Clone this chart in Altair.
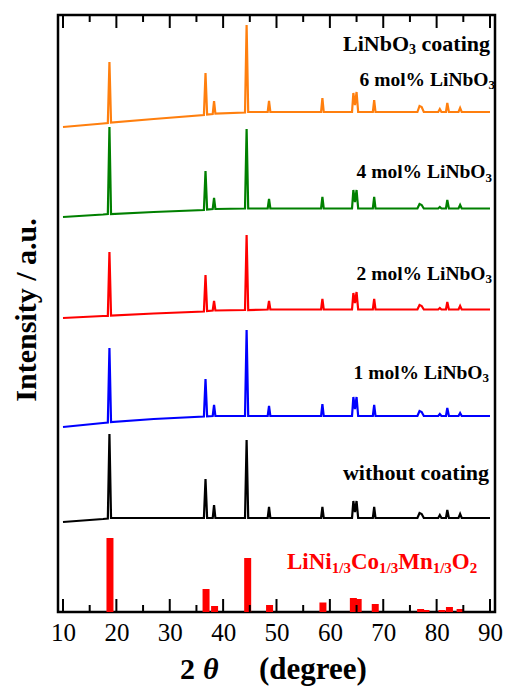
import altair as alt
import pandas as pd

# ---------------- data ----------------
two_theta = [10, 17.5, 18.4, 18.7, 19.0, 27, 36.4, 36.7, 37.0, 38.05, 38.3, 38.55,
             44.1, 44.4, 44.7, 48.35, 48.6, 48.85, 58.35, 58.6, 58.85,
             64.15, 64.4, 64.7, 65.0, 65.3, 68.05, 68.3, 68.55,
             76.4, 76.8, 77.2, 77.6, 80.3, 80.6, 80.9, 81.75, 82.0, 82.3,
             84.1, 84.4, 84.7, 90]

without_coating = [90, 93, 93.5, 178, 94, 94, 94, 133, 94, 94, 107, 94,
                   94, 172, 94, 94, 105, 94, 94, 105, 94,
                   94, 111, 100, 111, 94, 94, 105, 94,
                   94, 99, 98, 94, 94, 97, 94, 94, 102, 94,
                   94, 98, 94, 94]
mol1 = [185, 189, 189.5, 264, 190, 193, 195.5, 233, 195.7, 196, 207, 196,
        196, 282, 196, 196, 206, 196, 196, 208, 196,
        196, 215, 203, 215, 196, 196, 207, 196,
        196, 201, 200, 196, 196, 198, 196, 196, 204, 196,
        196, 199, 196, 196]
mol2 = [294, 296, 296, 360, 296.5, 298.5, 300.5, 337, 301, 301.5, 311, 301.5,
        302, 377, 302, 302.5, 311, 302.5, 302.5, 313, 302.5,
        302.5, 319, 309, 320, 302.5, 302.5, 313, 302.5,
        302.5, 307, 306, 302.5, 302.5, 304, 302.5, 302.5, 310, 302.5,
        302.5, 306, 302.5, 302.5]
mol4 = [395, 397.5, 398, 485, 398, 400, 402, 441, 402.5, 403, 414, 403,
        403.5, 483, 403.5, 403.5, 413, 403.5, 403.5, 415, 403.5,
        403.5, 422, 410, 422, 403.5, 403.5, 415, 403.5,
        403.5, 408, 407, 403.5, 403.5, 405, 403.5, 403.5, 412, 403.5,
        403.5, 407, 403.5, 403.5]
mol6 = [485, 488.5, 489, 550, 489.5, 493, 497, 539, 497.5, 498, 511, 498.5,
        499.5, 587, 500, 500, 511, 500, 500, 514, 500,
        500, 519, 507, 520, 500, 500, 512, 500,
        500, 506, 505, 500, 500, 503, 500, 500, 509, 500,
        500, 504, 500, 500]

series_names = ["without", "1 mol%", "2 mol%", "4 mol%", "6 mol%"]
series_values = [without_coating, mol1, mol2, mol4, mol6]
series_colors = ["#000000", "#0000ff", "#ff0000", "#008000", "#ff7f0e"]

ref_pos = [18.8, 36.8, 38.4, 44.6, 48.7, 58.7, 64.4, 65.3, 68.5, 77.0, 78.0, 81.0, 82.4, 84.4]
ref_int = [74, 23, 6, 54, 7, 9.5, 14, 13, 8, 3, 2, 2, 5, 3]

major_ticks = [10, 20, 30, 40, 50, 60, 70, 80, 90]
minor_ticks = [15, 25, 35, 45, 55, 65, 75, 85]

# ---------------- layout ----------------
W, H = 437, 597
PL, PT, PR, PB = 50, 7, 11, 76
SERIF = "Liberation Serif, Times New Roman, Times, serif"

rows = []
for name, vals in zip(series_names, series_values):
    for x, y in zip(two_theta, vals):
        rows.append({"deg": x, "I": y, "s": name})
df = pd.DataFrame(rows)
ref_df = pd.DataFrame({"deg": ref_pos, "I": ref_int})

xs = alt.Scale(domain=[10, 90], nice=False, zero=False)
ys = alt.Scale(domain=[0, 597], nice=False, zero=False)
X_AX = alt.Axis(values=major_ticks, ticks=False, domain=False, grid=False,
                labelFont=SERIF, labelFontSize=25, labelColor="black",
                labelPadding=8, title=None, labelFlush=False)

def X():
    return alt.X("deg:Q", scale=xs, axis=X_AX)

def Y():
    return alt.Y("I:Q", scale=ys, axis=None)

lines = alt.Chart(df).mark_line(strokeWidth=2.2, clip=True).encode(
    x=X(), y=Y(),
    color=alt.Color("s:N", scale=alt.Scale(domain=series_names, range=series_colors), legend=None),
    detail="s:N",
)

bars = alt.Chart(ref_df).mark_bar(size=7, color="#ff0000").encode(
    x=X(), y=Y(), y2=alt.value(H),
)

def tick_layer(vals, length):
    d = pd.DataFrame({"deg": vals})
    bot = alt.Chart(d).mark_rule(color="black", strokeWidth=2).encode(
        x=X(), y=alt.value(H), y2=alt.value(H - length))
    top = alt.Chart(d).mark_rule(color="black", strokeWidth=2).encode(
        x=X(), y=alt.value(0), y2=alt.value(length))
    return [bot, top]

ticks = tick_layer(major_ticks, 13) + tick_layer(minor_ticks, 7)

# Times-Bold advance widths (per 1000 em)
CW = {'L': 667, 'i': 278, 'N': 722, 'b': 556, 'O': 778, 'C': 722, 'o': 500, 'M': 944,
      'n': 556, '1': 500, '/': 278, '3': 500, '2': 500, ' ': 250, 'c': 444, 'a': 500,
      't': 333, 'g': 500, 'm': 833, 'l': 278, '%': 1000, '6': 500, '4': 500,
      'w': 722, 'h': 556, 'u': 556}

label_rows = []
X0 = 8 + PL  # page x of plot left
Y0 = 8 + PT  # page y of plot top

def rich(segs, ax, anchor, base_y, main, sub, color):
    widths = [sum(CW[c] for c in t) / 1000 * (sub if s else main) for t, s in segs]
    x0 = ax - sum(widths) if anchor == "right" else ax
    for (t, s), w in zip(segs, widths):
        if t.strip():
            label_rows.append({"t": t, "px": x0 - X0,
                               "py": base_y - Y0 + (0.17 * main if s else 0),
                               "fs": sub if s else main, "c": color})
        x0 += w

rich([("LiNbO", False), ("3", True), (" ", False), ("coating", False)], 490, "right", 50.7, 22, 14, "black")
rich([("6 mol% LiNbO", False), ("3", True)], 495, "right", 86, 19.5, 13, "black")
rich([("4 mol% LiNbO", False), ("3", True)], 492, "right", 178.3, 19.5, 13, "black")
rich([("2 mol% LiNbO", False), ("3", True)], 492, "right", 280, 19.5, 13, "black")
rich([("1 mol% LiNbO", False), ("3", True)], 489, "right", 379, 19.5, 13, "black")
rich([("without coating", False)], 489, "right", 480, 22, 14, "black")
rich([("LiNi", False), ("1/3", True), ("Co", False), ("1/3", True), ("Mn", False), ("1/3", True),
      ("O", False), ("2", True)], 287, "left", 569, 23, 15, "#ff0000")

text_layers = []
for r in label_rows:
    text_layers.append(
        alt.Chart(pd.DataFrame({"t": [r["t"]]})).mark_text(
            align="left", baseline="alphabetic", font=SERIF, fontWeight="bold",
            fontSize=r["fs"], color=r["c"], x=r["px"], y=r["py"]).encode(text="t:N"))

# axis titles
xt_base = 679 - Y0
titles = [
    alt.Chart(pd.DataFrame({"t": ["Intensity / a.u."]})).mark_text(
        align="center", baseline="alphabetic", font=SERIF, fontWeight="bold", fontSize=30,
        angle=270, color="black", x=36 - X0, y=310 - Y0).encode(text="t:N"),
    alt.Chart(pd.DataFrame({"t": ["2"]})).mark_text(
        align="left", baseline="alphabetic", font=SERIF, fontWeight="bold", fontSize=30,
        color="black", x=180 - X0, y=xt_base).encode(text="t:N"),
    alt.Chart(pd.DataFrame({"t": ["θ"]})).mark_text(
        align="left", baseline="alphabetic", font=SERIF, fontWeight="bold", fontStyle="italic",
        fontSize=30, color="black", x=203 - X0, y=xt_base).encode(text="t:N"),
    alt.Chart(pd.DataFrame({"t": ["(degree)"]})).mark_text(
        align="left", baseline="alphabetic", font=SERIF, fontWeight="bold", fontSize=31,
        color="black", x=259 - X0, y=xt_base).encode(text="t:N"),
]

chart = alt.layer(bars, lines, *ticks, *text_layers, *titles).properties(
    width=W, height=H,
    autosize=alt.AutoSizeParams(type="none"),
    padding={"left": PL, "top": PT, "right": PR, "bottom": PB},
).configure_view(stroke="black", strokeWidth=2.5)

chart.save("out.html", embed_options={"renderer": "svg", "actions": False})
